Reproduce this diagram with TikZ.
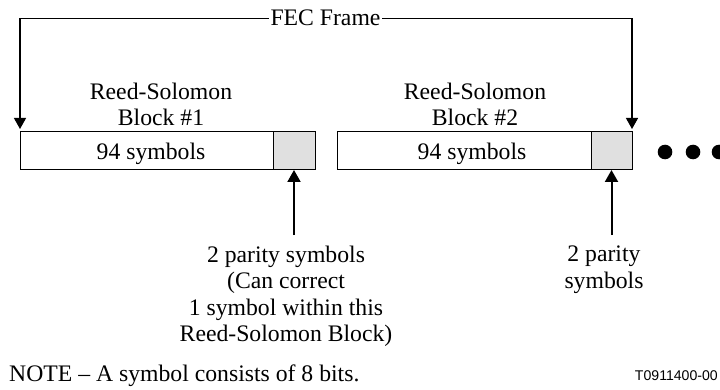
\documentclass[tikz,border=0pt]{standalone}
\usepackage{fontspec}
\setmainfont{Liberation Serif}
\newfontfamily\labelsans{Liberation Sans}
\usetikzlibrary{arrows.meta}
\begin{document}
\begin{tikzpicture}[x=1pt,y=-1pt,
  txt/.style={font=\fontsize{23.7}{26.3}\selectfont, inner sep=0pt, align=center},
  whitebox/.style={draw, line width=1pt, fill=white, minimum height=38pt, inner sep=0pt, outer sep=0pt, anchor=north west},
  graybox/.style={draw, line width=1pt, fill=black!12, minimum height=38pt, inner sep=0pt, outer sep=0pt, anchor=north west},
  dotnode/.style={circle, fill=black, minimum size=14.6pt, inner sep=0pt},
  downarr/.style={line width=1.3pt, -{Triangle[width=12pt,length=11pt]}, shorten >=3pt},
  uparr/.style={line width=2pt, -{Triangle[width=13pt,length=12pt]}}
]
\useasboundingbox (0,0) rectangle (720,390);
% boxes
\node[whitebox, minimum width=253pt] (w1) at (20,132) {};
\node[graybox, minimum width=42pt] (g1) at (273,132) {};
\node[whitebox, minimum width=254pt] (w2) at (337,132) {};
\node[graybox, minimum width=41pt] (g2) at (591,132) {};
\node[txt, anchor=base] (s1) at (151,160) {94 symbols};
\node[txt, anchor=base] (s2) at (472,160) {94 symbols};
% dots
\node[dotnode] (d1) at (665,152) {};
\node[dotnode] (d2) at (693,152) {};
\node[dotnode] (d3) at (719,152) {};
% FEC frame
\node[txt, anchor=base, inner xsep=1.5pt] (fec) at (325.5,26) {FEC Frame};
\draw[downarr] (fec.west) -| (w1.north west);
\draw[downarr] (fec.east) -| (g2.north east);
% block labels
\node[txt, anchor=north] (rs1) at (161,83) {Reed-Solomon\\Block \#1};
\node[txt, anchor=north] (rs2) at (475,83) {Reed-Solomon\\Block \#2};
% parity labels
\node[txt, anchor=north] (p1) at (286,246) {2 parity symbols\\(Can correct\\1 symbol within this\\Reed-Solomon Block)};
\node[txt, anchor=north] (p2) at (604,246) {2 parity\\symbols};
\coordinate (a1) at (294,235);
\coordinate (a2) at (611.5,235);
\draw[uparr] (a1) -- (g1.south);
\draw[uparr] (a2) -- (g2.south);
% note
\node[txt, anchor=base west] (note) at (9,381) {NOTE -- A symbol consists of 8 bits.};
\node[inner sep=0pt, anchor=base east, font=\labelsans\fontsize{14.1}{16}\selectfont] (code) at (718,380) {T0911400-00};
\end{tikzpicture}
\end{document}
